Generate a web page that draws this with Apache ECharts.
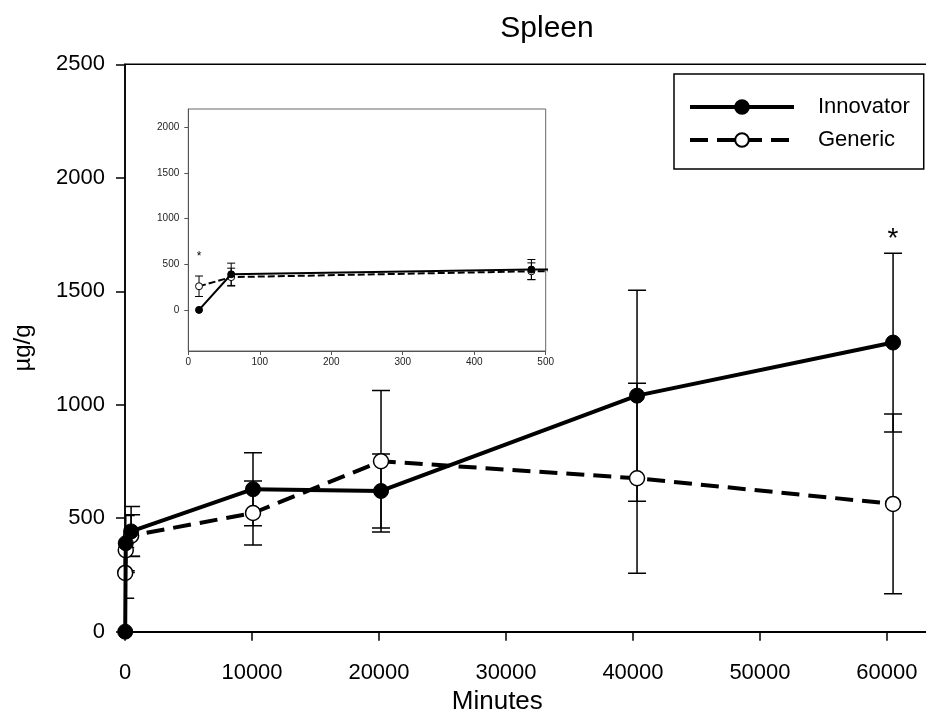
<!DOCTYPE html>
<html>
<head>
<meta charset="utf-8">
<script src="https://cdn.jsdelivr.net/npm/echarts@6/dist/echarts.min.js"></script>
<style>html,body{margin:0;padding:0;background:#fff}#c{width:926px;height:711px}</style>
</head>
<body>
<div id="c"></div>
<script>
// ---- data ----
const timesMin       = [15, 60, 480, 10080, 20160, 40320, 60480];
const innovatorMean  = [0, 390, 442, 628, 620, 1040, 1274];
const innovatorErr   = [0, 122, 110, 161, 163, 465, 394];
const genericMean    = [259, 359, 423, 523, 751, 676, 563];
const genericErr     = [112, 98, 92, 141, 312, 419, 396];
const mainYTicks     = [0, 500, 1000, 1500, 2000, 2500];
const insetYTicks    = [0, 500, 1000, 1500, 2000];
const mainStar       = [60480, 1760];
const insetStar      = [15, 612];

const FONT = '"Liberation Sans", Arial, Helvetica, sans-serif';
const plain = v => String(v);

function pairs(xs, ys) { return xs.map((x, i) => [x, ys[i]]); }
function errData(xs, ms, es) {
  const out = [];
  xs.forEach((x, i) => { if (es[i] > 0) out.push([x, ms[i] - es[i], ms[i] + es[i]]); });
  return out;
}
function errSeries(name, data, gi, cap, lw, z) {
  return {
    name: name, type: 'custom', xAxisIndex: gi, yAxisIndex: gi, clip: true, z: z,
    silent: true, data: data,
    renderItem: function (params, api) {
      const x = api.value(0), lo = api.value(1), hi = api.value(2);
      const a = api.coord([x, lo]), b = api.coord([x, hi]);
      const st = { stroke: '#000', lineWidth: lw };
      return { type: 'group', children: [
        { type: 'line', shape: { x1: a[0], y1: a[1], x2: b[0], y2: b[1] }, style: st },
        { type: 'line', shape: { x1: a[0] - cap, y1: a[1], x2: a[0] + cap, y2: a[1] }, style: st },
        { type: 'line', shape: { x1: b[0] - cap, y1: b[1], x2: b[0] + cap, y2: b[1] }, style: st }
      ]};
    }
  };
}
function starSeries(name, point, gi, size, z) {
  return {
    name: name, type: 'custom', xAxisIndex: gi, yAxisIndex: gi, z: z, silent: true,
    data: [point],
    renderItem: function (params, api) {
      const p = api.coord([api.value(0), api.value(1)]);
      return { type: 'text', x: p[0], y: p[1] + size * 0.25,
        style: { text: '*', fontFamily: FONT, fontSize: size, fill: '#000', align: 'center', verticalAlign: 'middle' } };
    }
  };
}

const chart = echarts.init(document.getElementById('c'), null, { renderer: 'canvas' });
const option = {
  backgroundColor: '#fff',
  animation: false,
  title: {
    text: 'Spleen', left: 542, top: 9, textAlign: 'center',
    textStyle: { fontFamily: FONT, fontSize: 30, fontWeight: 'normal', color: '#000' }
  },
  legend: {
    data: ['Innovator', 'Generic'],
    orient: 'vertical', left: 674, top: 74,
    padding: [22, 14, 18, 14],
    itemWidth: 104, itemHeight: 17, itemGap: 11,
    borderColor: '#000', borderWidth: 1.5, backgroundColor: '#fff',
    lineStyle: { width: 4 },
    textStyle: { fontFamily: FONT, fontSize: 22, color: '#000', padding: [0, 0, 0, 19] },
    selectedMode: false
  },
  grid: [
    { left: 125, top: 64.3, width: 802.6, height: 567.4, show: true, borderColor: '#000', borderWidth: 1.5, containLabel: false, outerBoundsMode: 'none' },
    { left: 188.3, top: 109, width: 357.4, height: 242, show: true, borderColor: '#666', borderWidth: 1, backgroundColor: '#fff', containLabel: false, outerBoundsMode: 'none' }
  ],
  xAxis: [
    {
      gridIndex: 0, type: 'value', min: 0, max: 63200, interval: 10000,
      name: 'Minutes', nameLocation: 'middle', nameGap: 53,
      nameTextStyle: { fontFamily: FONT, fontSize: 26, color: '#000', padding: [0, 58, 0, 0] },
      axisLine: { show: true, onZero: false, lineStyle: { color: '#000', width: 2 } },
      axisTick: { show: true, length: 9, lineStyle: { color: '#000', width: 1.5 } },
      axisLabel: { fontFamily: FONT, fontSize: 22, color: '#000', margin: 30, formatter: plain },
      splitLine: { show: false }
    },
    {
      gridIndex: 1, type: 'value', min: 0, max: 500, interval: 100,
      axisLine: { show: true, onZero: false, lineStyle: { color: '#555', width: 1 } },
      axisTick: { show: true, length: 4, lineStyle: { color: '#555', width: 1 } },
      axisLabel: { fontFamily: FONT, fontSize: 10, color: '#222', margin: 6, formatter: plain },
      splitLine: { show: false }
    }
  ],
  yAxis: [
    {
      gridIndex: 0, type: 'value', min: 0, max: 2500, interval: 500,
      name: 'µg/g', nameLocation: 'middle', nameGap: 90, nameRotate: 90,
      nameTextStyle: { fontFamily: FONT, fontSize: 24, color: '#000' },
      axisLine: { show: true, onZero: false, lineStyle: { color: '#000', width: 1.5 } },
      axisTick: { show: true, length: 9, lineStyle: { color: '#000', width: 1.5 }, customValues: mainYTicks },
      axisLabel: { fontFamily: FONT, fontSize: 22, color: '#000', margin: 20, customValues: mainYTicks, formatter: plain },
      splitLine: { show: false }
    },
    {
      gridIndex: 1, type: 'value', min: -450, max: 2200,
      axisLine: { show: true, onZero: false, lineStyle: { color: '#555', width: 1 } },
      axisTick: { show: true, length: 4, lineStyle: { color: '#555', width: 1 }, customValues: insetYTicks },
      axisLabel: { fontFamily: FONT, fontSize: 10, color: '#222', margin: 9, customValues: insetYTicks, formatter: plain },
      splitLine: { show: false }
    }
  ],
  series: [
    // main chart
    {
      name: 'Innovator', type: 'line', xAxisIndex: 0, yAxisIndex: 0, z: 4,
      data: pairs(timesMin, innovatorMean),
      symbol: 'circle', symbolSize: 15, showAllSymbol: true,
      lineStyle: { color: '#000', width: 4, type: 'solid' },
      itemStyle: { color: '#000', borderColor: '#000', borderWidth: 1 }
    },
    {
      name: 'Generic', type: 'line', xAxisIndex: 0, yAxisIndex: 0, z: 3,
      data: pairs(timesMin, genericMean),
      symbol: 'circle', symbolSize: 15, showAllSymbol: true,
      lineStyle: { color: '#000', width: 4, type: [18, 9] },
      itemStyle: { color: '#fff', borderColor: '#000', borderWidth: 1.5 }
    },
    errSeries('Generic error', errData(timesMin, genericMean, genericErr), 0, 9, 1.5, 2),
    errSeries('Innovator error', errData(timesMin, innovatorMean, innovatorErr), 0, 9, 1.5, 2),
    starSeries('star', mainStar, 0, 28, 5),
    // inset chart
    errSeries('Generic error inset', errData(timesMin, genericMean, genericErr), 1, 4, 1, 12),
    errSeries('Innovator error inset', errData(timesMin, innovatorMean, innovatorErr), 1, 4, 1, 12),
    {
      name: 'Innovator inset', type: 'line', xAxisIndex: 1, yAxisIndex: 1, z: 14, clip: true,
      data: pairs(timesMin, innovatorMean),
      symbol: 'circle', symbolSize: 7, showAllSymbol: true,
      lineStyle: { color: '#000', width: 2, type: 'solid' },
      itemStyle: { color: '#000', borderColor: '#000', borderWidth: 1 }
    },
    {
      name: 'Generic inset', type: 'line', xAxisIndex: 1, yAxisIndex: 1, z: 13, clip: true,
      data: pairs(timesMin, genericMean),
      symbol: 'circle', symbolSize: 7, showAllSymbol: true,
      lineStyle: { color: '#000', width: 2, type: [7, 3] },
      itemStyle: { color: '#fff', borderColor: '#000', borderWidth: 1 }
    },
    starSeries('star inset', insetStar, 1, 12, 15)
  ]
};
chart.setOption(option);
</script>
</body>
</html>
